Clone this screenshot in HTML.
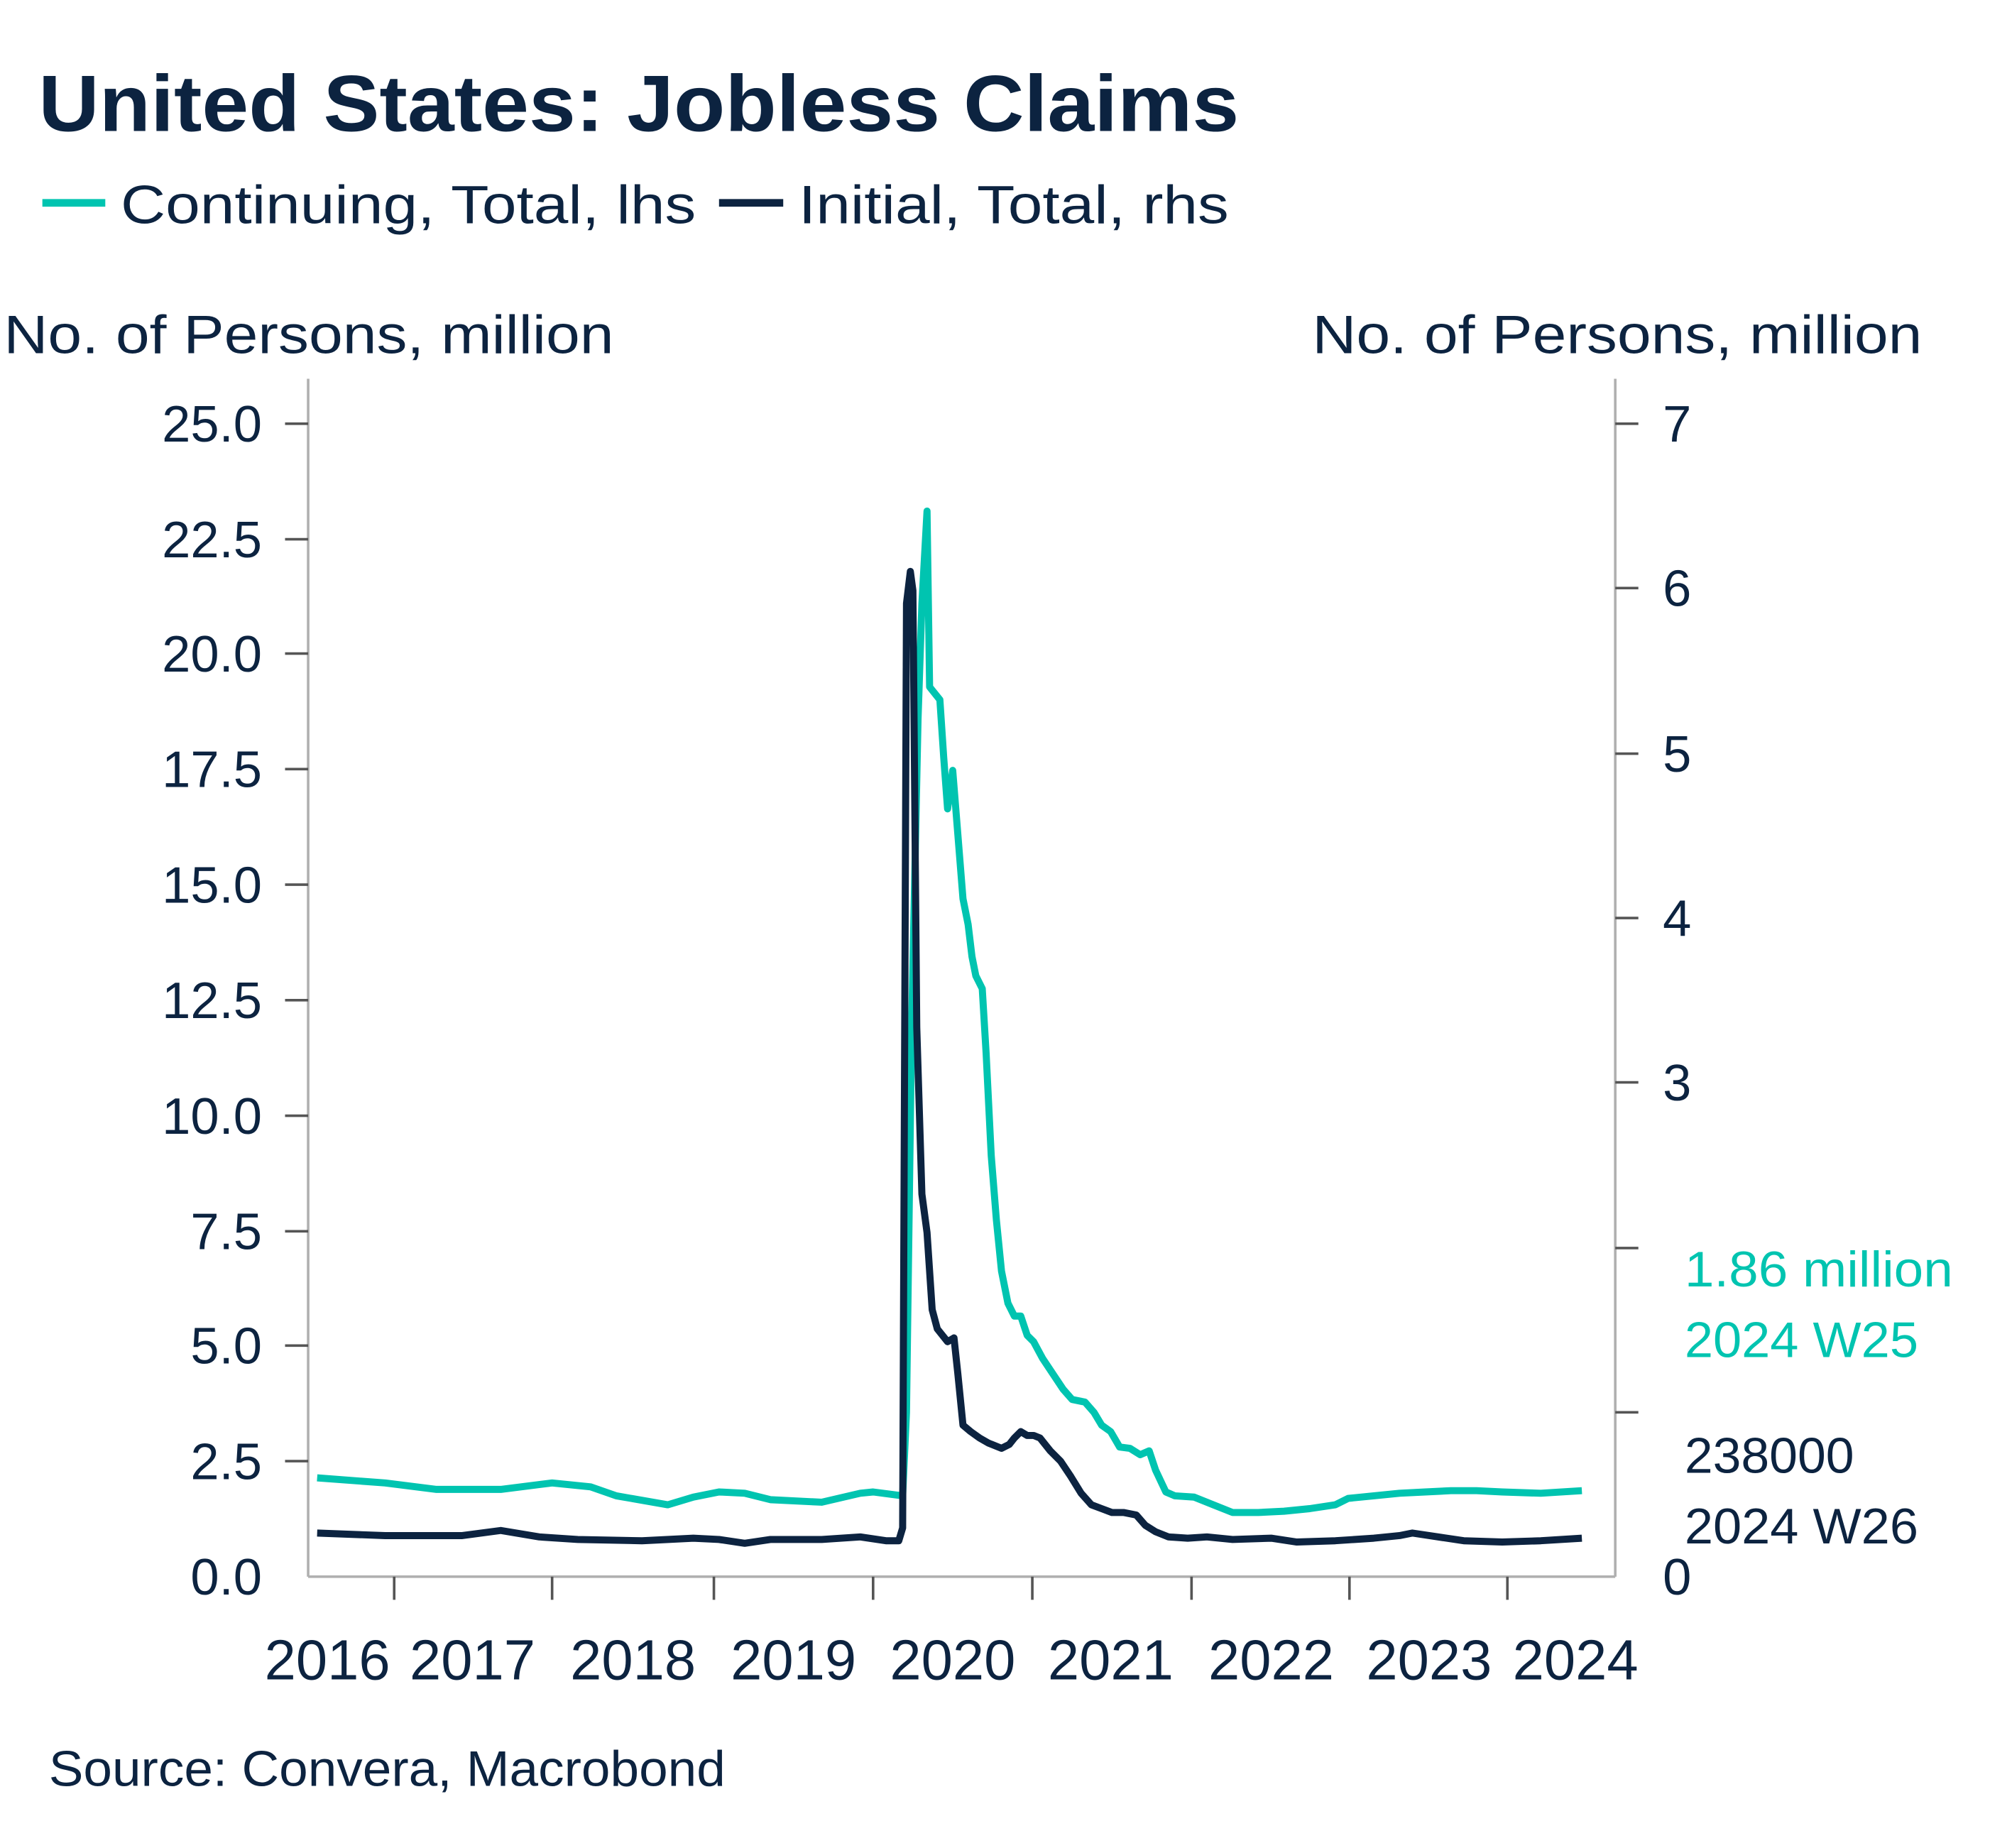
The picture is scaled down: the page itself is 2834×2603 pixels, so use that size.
<!DOCTYPE html>
<html><head><meta charset="utf-8"><style>html,body{margin:0;padding:0;background:#fff}svg{display:block}</style></head><body>
<svg width="2834" height="2603" viewBox="0 0 1567 1439.3" preserveAspectRatio="none" xmlns="http://www.w3.org/2000/svg" font-family="'Liberation Sans', 'DejaVu Sans', sans-serif" fill="#0c2340">
<text x="30" y="102" font-size="62" font-weight="bold" textLength="935" lengthAdjust="spacingAndGlyphs">United States: Jobless Claims</text>
<line x1="33" y1="158" x2="82" y2="158" stroke="#00c4b0" stroke-width="6"/>
<text x="94" y="174" font-size="42" textLength="448" lengthAdjust="spacingAndGlyphs">Continuing, Total, lhs</text>
<line x1="560" y1="158" x2="610" y2="158" stroke="#0c2340" stroke-width="6"/>
<text x="622" y="174" font-size="42" textLength="335" lengthAdjust="spacingAndGlyphs">Initial, Total, rhs</text>
<text x="3" y="275" font-size="42" textLength="475" lengthAdjust="spacingAndGlyphs">No. of Persons, million</text>
<text x="1022" y="275" font-size="42" textLength="475" lengthAdjust="spacingAndGlyphs">No. of Persons, million</text>
<g stroke="#b0b0b0" stroke-width="2">
<line x1="240" y1="295" x2="240" y2="1228"/><line x1="1258" y1="295" x2="1258" y2="1228"/><line x1="240" y1="1228" x2="1258" y2="1228"/>
</g>
<g stroke="#555" stroke-width="2">
<line x1="222" y1="330" x2="240" y2="330"/><line x1="222" y1="420" x2="240" y2="420"/><line x1="222" y1="509" x2="240" y2="509"/><line x1="222" y1="599" x2="240" y2="599"/><line x1="222" y1="689" x2="240" y2="689"/><line x1="222" y1="779" x2="240" y2="779"/><line x1="222" y1="869" x2="240" y2="869"/><line x1="222" y1="959" x2="240" y2="959"/><line x1="222" y1="1048" x2="240" y2="1048"/><line x1="222" y1="1138" x2="240" y2="1138"/>
<line x1="1258" y1="330" x2="1276" y2="330"/><line x1="1258" y1="458" x2="1276" y2="458"/><line x1="1258" y1="587" x2="1276" y2="587"/><line x1="1258" y1="715" x2="1276" y2="715"/><line x1="1258" y1="843" x2="1276" y2="843"/><line x1="1258" y1="972" x2="1276" y2="972"/><line x1="1258" y1="1100" x2="1276" y2="1100"/>
<line x1="307" y1="1228" x2="307" y2="1246"/><line x1="430" y1="1228" x2="430" y2="1246"/><line x1="556" y1="1228" x2="556" y2="1246"/><line x1="680" y1="1228" x2="680" y2="1246"/><line x1="804" y1="1228" x2="804" y2="1246"/><line x1="928" y1="1228" x2="928" y2="1246"/><line x1="1051" y1="1228" x2="1051" y2="1246"/><line x1="1174" y1="1228" x2="1174" y2="1246"/>
</g>
<g font-size="40" text-anchor="end">
<text x="204" y="344">25.0</text><text x="204" y="434">22.5</text><text x="204" y="523">20.0</text><text x="204" y="613">17.5</text><text x="204" y="703">15.0</text><text x="204" y="793">12.5</text><text x="204" y="883">10.0</text><text x="204" y="973">7.5</text><text x="204" y="1062">5.0</text><text x="204" y="1152">2.5</text><text x="204" y="1242">0.0</text>
</g>
<g font-size="40">
<text x="1295" y="344">7</text><text x="1295" y="472">6</text><text x="1295" y="601">5</text><text x="1295" y="729">4</text><text x="1295" y="857">3</text><text x="1295" y="1242">0</text>
</g>
<g font-size="44" text-anchor="middle">
<text x="255" y="1308">2016</text><text x="368" y="1308">2017</text><text x="493" y="1308">2018</text><text x="618" y="1308">2019</text><text x="742" y="1308">2020</text><text x="865" y="1308">2021</text><text x="990" y="1308">2022</text><text x="1113" y="1308">2023</text><text x="1227" y="1308">2024</text>
</g>
<polyline fill="none" stroke="#00c4b0" stroke-width="5.5" stroke-linejoin="round" points="247,1151 300,1155 340,1160 390,1160 430,1155 460,1158 480,1165 520,1172 540,1166 560,1162 580,1163 600,1168 640,1170 670,1163 680,1162 703,1165 706,1100 710,800 715,560 718,470 722,398 724,535 732,545 735,590 738,630 742,600 746,650 750,700 754,720 757,745 760,760 765,770 768,820 772,900 776,950 780,990 785,1015 790,1025 795,1025 800,1040 805,1045 812,1058 820,1070 828,1082 835,1090 845,1092 852,1100 858,1110 865,1115 872,1127 880,1128 888,1133 895,1130 900,1145 908,1162 915,1165 930,1166 945,1172 960,1178 980,1178 1000,1177 1020,1175 1040,1172 1050,1167 1070,1165 1090,1163 1110,1162 1130,1161 1150,1161 1170,1162 1200,1163 1232,1161"/>
<polyline fill="none" stroke="#0c2340" stroke-width="5.5" stroke-linejoin="round" points="247,1194 300,1196 360,1196 390,1192 420,1197 450,1199 500,1200 540,1198 560,1199 580,1202 600,1199 640,1199 670,1197 690,1200 700,1200 703,1190 706,470 709,445 711,460 714,800 718,930 722,960 726,1020 730,1035 738,1045 743,1042 746,1070 750,1110 756,1115 763,1120 770,1124 780,1128 786,1125 790,1120 795,1115 800,1118 805,1118 810,1120 818,1130 826,1138 834,1150 842,1163 850,1172 858,1175 866,1178 875,1178 885,1180 892,1188 900,1193 910,1197 925,1198 940,1197 960,1199 990,1198 1010,1201 1040,1200 1070,1198 1090,1196 1100,1194 1120,1197 1140,1200 1170,1201 1200,1200 1232,1198"/>
<g font-size="39">
<text x="1312" y="1002" fill="#00c4b0" textLength="209" lengthAdjust="spacingAndGlyphs">1.86 million</text>
<text x="1312" y="1057" fill="#00c4b0" textLength="182" lengthAdjust="spacingAndGlyphs">2024 W25</text>
<text x="1312" y="1147" textLength="132" lengthAdjust="spacingAndGlyphs">238000</text>
<text x="1312" y="1202" textLength="182" lengthAdjust="spacingAndGlyphs">2024 W26</text>
</g>
<text x="38" y="1391" font-size="39" textLength="527" lengthAdjust="spacingAndGlyphs">Source: Convera, Macrobond</text>
</svg>
</body></html>
